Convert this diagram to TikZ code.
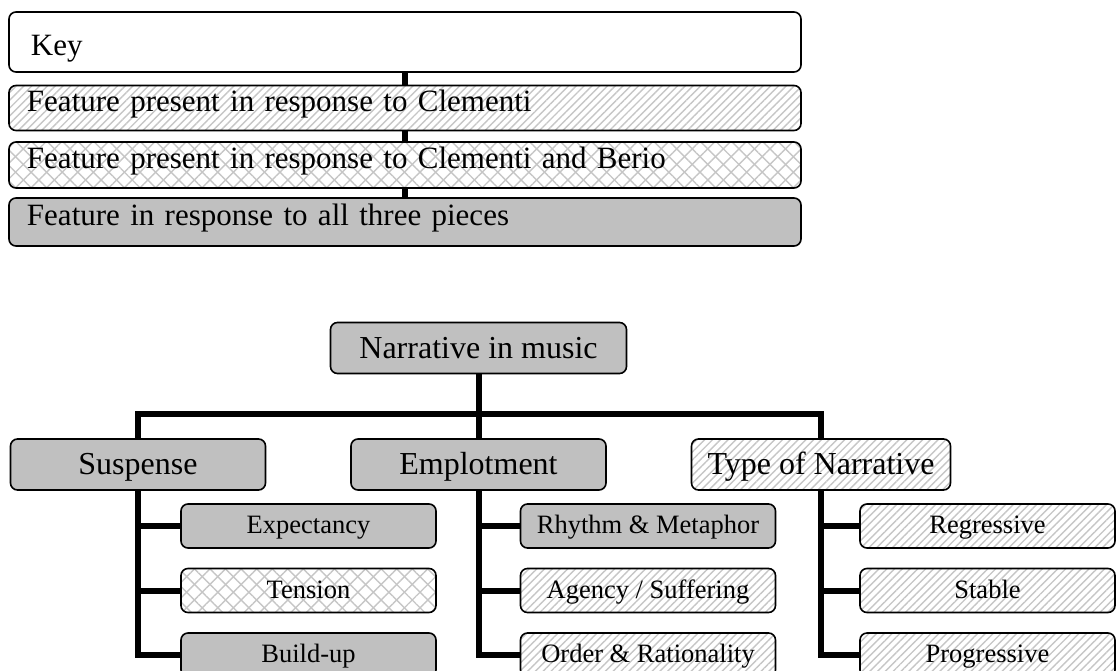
\documentclass[tikz,border=0pt]{standalone}
\usepackage{fontspec}
\setmainfont{Liberation Serif}
\usetikzlibrary{patterns.meta}
\definecolor{allgray}{HTML}{C0C0C0}
\definecolor{hatchgray}{HTML}{C6C6C6}
\tikzset{
  boxbase/.style={
    draw, rounded corners=7pt, line width=1.6pt, inner ysep=0pt
  },
  keybox/.style={
    boxbase, minimum height=45pt, text width=756pt, inner xsep=18pt, align=left,
    text height=12pt, text depth=6pt, font=\fontsize{31}{36}\selectfont
  },
  topbox/.style={
    boxbase, minimum width=255pt, minimum height=51pt, inner xsep=16pt,
    text height=21pt, text depth=2pt, font=\fontsize{32}{36}\selectfont
  },
  subbox/.style={
    boxbase, minimum width=255pt, minimum height=44pt, inner xsep=12pt,
    text height=17pt, text depth=2pt, font=\fontsize{26.5}{30}\selectfont
  },
  % fill for each group of answers
  allthree/.style={fill=allgray},
  clementi/.style={
    pattern={Lines[angle=45, distance=5.5pt, line width=1.4pt]}, pattern color=hatchgray
  },
  berio/.style={
    preaction={pattern={Lines[angle=45, distance=11pt, line width=1.4pt]}, pattern color=hatchgray},
    pattern={Lines[angle=-45, distance=11pt, line width=1.4pt]}, pattern color=hatchgray
  },
  conn/.style={line width=6pt}
}

\begin{document}
\begin{tikzpicture}[x=1pt, y=-1pt]
  \clip (0,0) rectangle (1116,670);

  % key
  \node[keybox, minimum height=60pt, text height=28pt, text depth=2pt] (key) at (405,42) {\hspace*{4pt}Key};
  \node[keybox, clementi] (f1) at (405,108) {Feature present in response to Clementi};
  \node[keybox, berio, minimum height=46pt] (f2) at (405,165) {Feature present in response to Clementi and Berio};
  \node[keybox, allthree, minimum height=48pt] (f3) at (405,222) {Feature in response to all three pieces};

  \draw[conn] (key.south) -- (f1.north);
  \draw[conn] (f1.south) -- (f2.north);
  \draw[conn] (f2.south) -- (f3.north);

  % tree
  \node[topbox, allthree, minimum width=296pt, text height=22pt] (root) at (478.5,348) {Narrative in music};
  \node[topbox, allthree] (susp) at (138,464.5) {Suspense};
  \node[topbox, allthree] (emp) at (478.5,464.5) {Emplotment};
  \node[topbox, clementi] (type) at (821,464.5) {Type of Narrative};

  \node[subbox, allthree] (expect) at (308.5,526) {Expectancy};
  \node[subbox, berio] (tension) at (308.5,590.5) {Tension};
  \node[subbox, allthree] (buildup) at (308.5,655) {Build-up};

  \node[subbox, allthree] (rhythm) at (648,526) {Rhythm \& Metaphor};
  \node[subbox, clementi] (agency) at (648,590.5) {Agency / Suffering};
  \node[subbox, clementi] (order) at (648,655) {Order \& Rationality};

  \node[subbox, clementi] (regress) at (987.5,526) {Regressive};
  \node[subbox, clementi] (stable) at (987.5,590.5) {Stable};
  \node[subbox, clementi] (progress) at (987.5,655) {Progressive};

  \draw[conn] (root.south) -- (emp.north);
  \draw[conn] (susp.north) -- ++(0,-24) -| (type.north);

  \draw[conn] (susp.south) |- (buildup.west);
  \draw[conn] (susp.south |- expect.west) -- (expect.west);
  \draw[conn] (susp.south |- tension.west) -- (tension.west);

  \draw[conn] (emp.south) |- (order.west);
  \draw[conn] (emp.south |- rhythm.west) -- (rhythm.west);
  \draw[conn] (emp.south |- agency.west) -- (agency.west);

  \draw[conn] (type.south) |- (progress.west);
  \draw[conn] (type.south |- regress.west) -- (regress.west);
  \draw[conn] (type.south |- stable.west) -- (stable.west);
\end{tikzpicture}
\end{document}
